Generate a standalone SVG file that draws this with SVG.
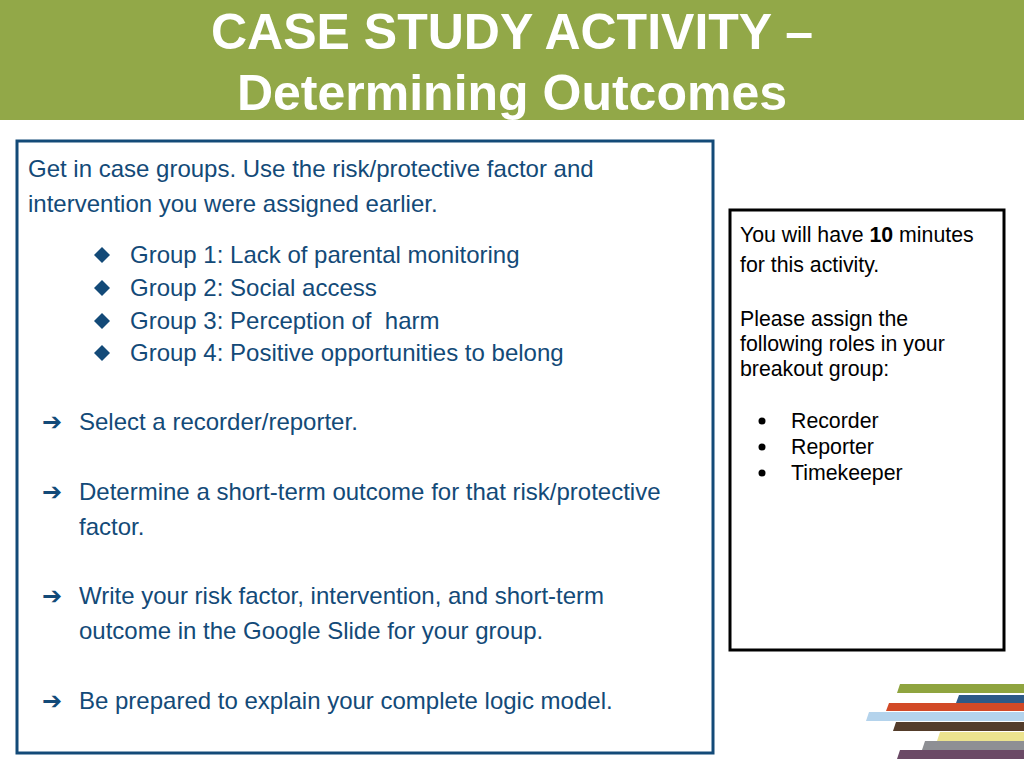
<svg xmlns="http://www.w3.org/2000/svg" width="1024" height="768" viewBox="0 0 1024 768">
<style>
.t{font-family:"Liberation Sans",Arial,sans-serif;fill:#134a78;font-size:24px}
.s{font-family:"Liberation Sans",Arial,sans-serif;fill:#000;font-size:21.3px}
.h{font-family:"Liberation Sans",Arial,sans-serif;fill:#fff;font-size:50px;font-weight:bold;text-anchor:middle}
</style>
<rect width="1024" height="768" fill="#fff"/>
<g id="header"><rect x="0" y="0" width="1024" height="120" fill="#92a848"/>
<text class="h" x="512" y="49">CASE STUDY ACTIVITY –</text>
<text class="h" x="512" y="110">Determining Outcomes</text></g>
<g id="main">
<rect x="17" y="141" width="696" height="612" fill="#fff" stroke="#134a78" stroke-width="3"/>
<text class="t" x="28" y="177">Get in case groups. Use the risk/protective factor and</text>
<text class="t" x="28" y="212">intervention you were assigned earlier.</text>
<g fill="#134a78"><path d="M102 247l8 8-8 8-8-8z"/><path d="M102 280l8 8-8 8-8-8z"/><path d="M102 313l8 8-8 8-8-8z"/><path d="M102 345l8 8-8 8-8-8z"/></g>
<text class="t" x="130" y="263">Group 1: Lack of parental monitoring</text>
<text class="t" x="130" y="296">Group 2: Social access</text>
<text class="t" x="130" y="329" xml:space="preserve">Group 3: Perception of  harm</text>
<text class="t" x="130" y="361">Group 4: Positive opportunities to belong</text>
<g class="t" style="font-size:24px"><text x="42" y="430">➔</text><text x="42" y="500">➔</text><text x="42" y="604">➔</text><text x="42" y="709">➔</text></g>
<text class="t" x="79" y="430">Select a recorder/reporter.</text>
<text class="t" x="79" y="500">Determine a short-term outcome for that risk/protective</text>
<text class="t" x="79" y="535">factor.</text>
<text class="t" x="79" y="604">Write your risk factor, intervention, and short-term</text>
<text class="t" x="79" y="639">outcome in the Google Slide for your group.</text>
<text class="t" x="79" y="709">Be prepared to explain your complete logic model.</text>
</g>
<g id="side">
<rect x="730" y="210" width="274" height="440" fill="#fff" stroke="#000" stroke-width="3"/>
<text class="s" x="740" y="242">You will have <tspan font-weight="bold">10</tspan> minutes</text>
<text class="s" x="740" y="272">for this activity.</text>
<text class="s" x="740" y="326">Please assign the</text>
<text class="s" x="740" y="351">following roles in your</text>
<text class="s" x="740" y="376">breakout group:</text>
<g fill="#000"><circle cx="762" cy="421" r="3.5"/><circle cx="762" cy="447" r="3.5"/><circle cx="762" cy="473" r="3.5"/></g>
<text class="s" x="791" y="428">Recorder</text>
<text class="s" x="791" y="454">Reporter</text>
<text class="s" x="791" y="480">Timekeeper</text>
</g>
<g id="stripes">
<polygon points="900,684 1024,684 1024,693 897,693" fill="#8fa43f"/>
<polygon points="959,695 1024,695 1024,703 956,703" fill="#2d5a87"/>
<polygon points="889,703 1024,703 1024,711 886,711" fill="#d24a27"/>
<polygon points="869,712 1024,712 1024,721 866,721" fill="#b4d3ec"/>
<polygon points="896,722 1024,722 1024,731 893,731" fill="#533c2a"/>
<polygon points="940,732 1024,732 1024,741 937,741" fill="#ece38f"/>
<polygon points="925,741 1024,741 1024,750 922,750" fill="#8e8f94"/>
<polygon points="900,750 1024,750 1024,759 897,759" fill="#6b4a66"/>
</g>
</svg>
